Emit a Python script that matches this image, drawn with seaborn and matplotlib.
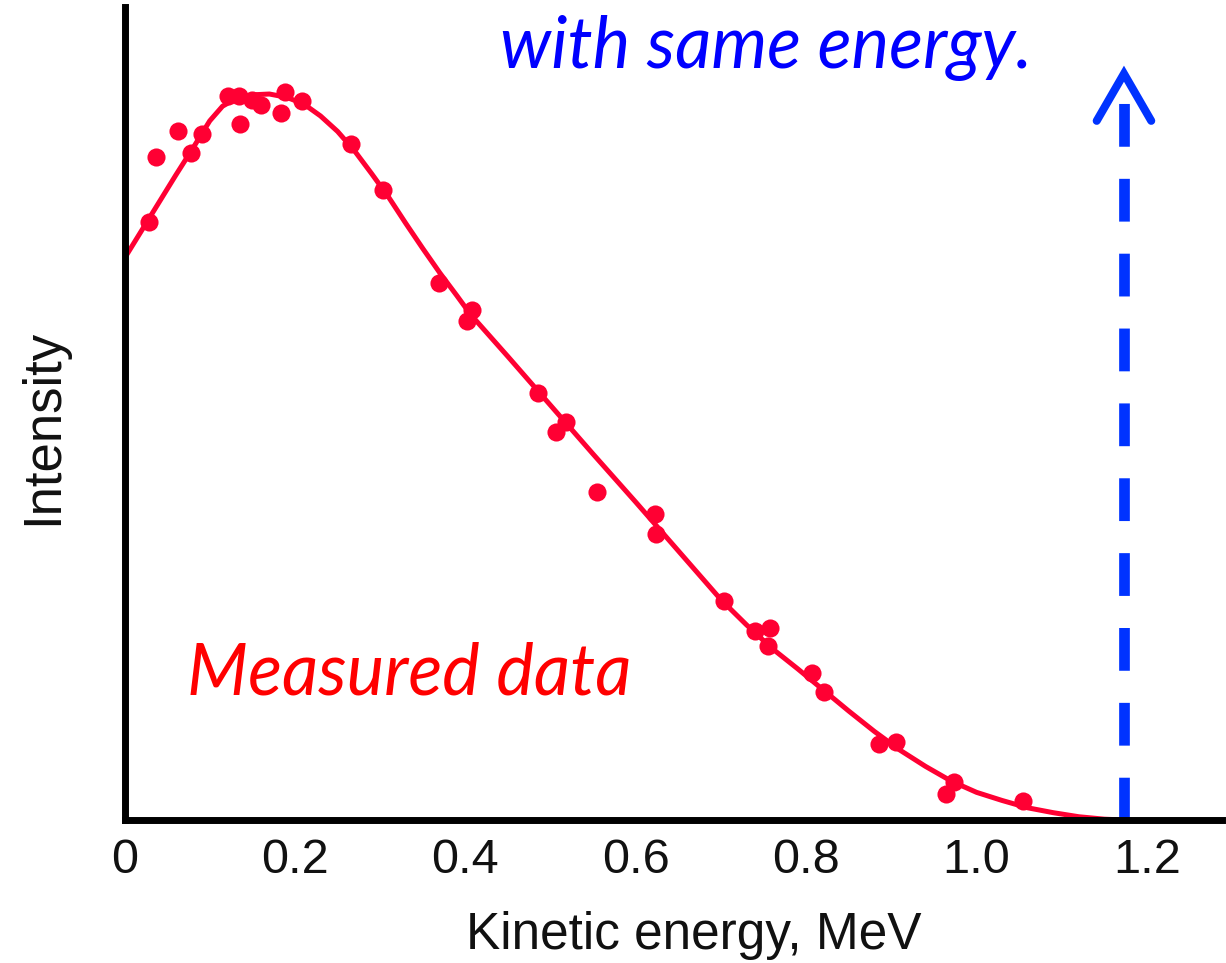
import matplotlib
matplotlib.use("Agg")
import matplotlib.pyplot as plt
import seaborn as sns
import numpy as np

# measured points (energy in MeV, intensity in arbitrary units)
data_energy = [0.029, 0.037, 0.063, 0.078, 0.091, 0.121, 0.134, 0.136, 0.149, 0.160,
               0.188, 0.184, 0.208, 0.266, 0.303, 0.369, 0.408, 0.402, 0.485, 0.518,
               0.506, 0.554, 0.622, 0.624, 0.703, 0.740, 0.758, 0.755, 0.807, 0.821,
               0.885, 0.905, 0.974, 0.964, 1.054]
data_intensity = [0.736, 0.816, 0.848, 0.821, 0.844, 0.891, 0.890, 0.856, 0.886, 0.880,
                  0.895, 0.870, 0.884, 0.831, 0.775, 0.660, 0.627, 0.614, 0.525, 0.489,
                  0.477, 0.404, 0.377, 0.352, 0.269, 0.232, 0.236, 0.214, 0.181, 0.157,
                  0.094, 0.096, 0.047, 0.032, 0.023]

# fitted spectrum
fit_energy = [0.0, 0.02, 0.04, 0.06, 0.08, 0.10, 0.115, 0.13, 0.15, 0.17, 0.19,
              0.21, 0.23, 0.25, 0.27, 0.29, 0.31, 0.33, 0.35, 0.37, 0.39, 0.406,
              0.45, 0.50, 0.55, 0.60, 0.65, 0.70, 0.73, 0.76, 0.79, 0.82, 0.85,
              0.88, 0.91, 0.94, 0.97, 1.00, 1.03, 1.06, 1.09, 1.12, 1.15, 1.173]
fit_intensity = [0.691, 0.725, 0.759, 0.793, 0.826, 0.860, 0.878, 0.887, 0.892, 0.893, 0.889,
                 0.881, 0.866, 0.847, 0.823, 0.795, 0.766, 0.734, 0.703, 0.673, 0.645, 0.622,
                 0.570, 0.510, 0.450, 0.391, 0.331, 0.271, 0.240, 0.211, 0.186, 0.160, 0.134,
                 0.109, 0.086, 0.066, 0.048, 0.034, 0.024, 0.015, 0.009, 0.004, 0.001, 0.0]

endpoint = 1.173  # maximum kinetic energy
tick_vals = [0, 0.2, 0.4, 0.6, 0.8, 1.0, 1.2]
tick_labels = ["0", "0.2", "0.4", "0.6", "0.8", "1.0", "1.2"]

red = "#ff0033"
blue = "#0033ff"

sns.set_style("white")
plt.rcParams["font.family"] = ["Liberation Sans", "DejaVu Sans"]

fig = plt.figure(figsize=(12.26, 9.63), dpi=100)
ax = fig.add_axes([0.1016, 0.1485, 0.8951, 0.8442])

sns.lineplot(x=fit_energy, y=fit_intensity, ax=ax, color=red, lw=3.6,
             sort=False, estimator=None, zorder=2)
sns.scatterplot(x=data_energy, y=data_intensity, ax=ax, color=red, s=170,
                linewidth=0, zorder=3)

# dashed arrow at the endpoint energy
ax.plot([endpoint, endpoint], [0, 0.884], color=blue, lw=7.7,
        linestyle=(0, (4, 3)), dash_capstyle="butt", zorder=4)
hw, hl, tip = 0.032, 0.058, 0.918
ax.plot([endpoint - hw, endpoint, endpoint + hw], [tip - hl, tip, tip - hl],
        color=blue, lw=5.8, solid_capstyle="round", solid_joinstyle="miter", zorder=4)

ax.set_xlim(0, 1.288)
ax.set_ylim(0, 1.0)
ax.set_xticks(tick_vals)
ax.set_xticklabels(tick_labels)
ax.set_yticks([])
ax.tick_params(axis="x", length=0, pad=13, labelsize=35, labelcolor="#111111")

for side in ["top", "right"]:
    ax.spines[side].set_visible(False)
for side in ["left", "bottom"]:
    ax.spines[side].set_color("black")
    ax.spines[side].set_linewidth(5)
    ax.spines[side].set_zorder(5)

ax.set_xlabel("Kinetic energy, MeV", fontsize=37, color="#111111")
ax.xaxis.set_label_coords(0.519, -0.112)
ax.set_ylabel("Intensity", fontsize=38, color="#111111")
ax.yaxis.set_label_coords(-0.0515, 0.483)

fig.text(0.1525, 0.2793, "Measured data", color="#ff0000", fontsize=51,
         style="italic", family=["Lato", "DejaVu Sans"], ha="left", va="baseline")
fig.text(0.4078, 0.9294, "with same energy.", color="#0000ff", fontsize=51,
         style="italic", family=["Lato", "DejaVu Sans"], ha="left", va="baseline")

fig.savefig("out.png", dpi=100)
